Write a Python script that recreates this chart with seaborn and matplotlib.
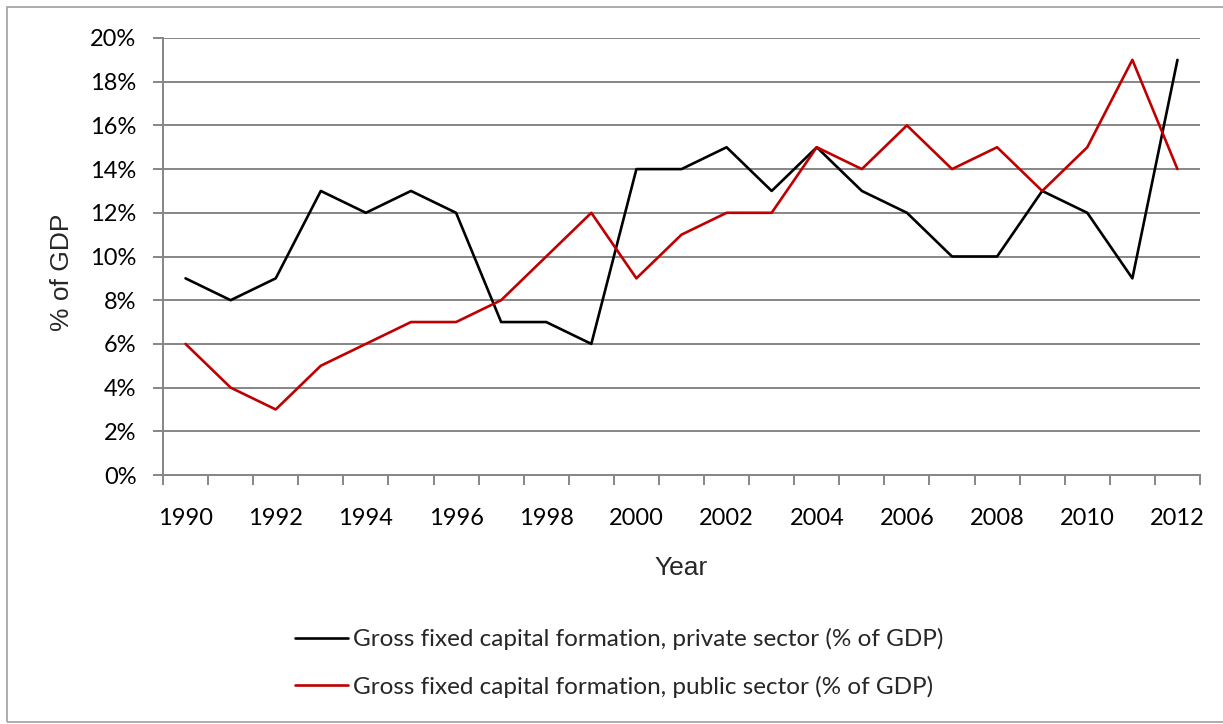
import matplotlib
matplotlib.use("Agg")
import matplotlib.pyplot as plt
import seaborn as sns
import pandas as pd
import numpy as np
from matplotlib.patches import Rectangle
from matplotlib.lines import Line2D
from matplotlib.ticker import FixedLocator, PercentFormatter

years = list(range(1990, 2013))
private = [9, 8, 9, 13, 12, 13, 12, 7, 7, 6, 14, 14, 15, 13, 15, 13, 12, 10, 10, 13, 12, 9, 19]
public = [6, 4, 3, 5, 6, 7, 7, 8, 10, 12, 9, 11, 12, 12, 15, 14, 16, 14, 15, 13, 15, 19, 14]
labels = ["Gross fixed capital formation, private sector (% of GDP)",
          "Gross fixed capital formation, public sector (% of GDP)"]
colors = ["#000000", "#C00000"]

df = pd.DataFrame({
    "Year": years * 2,
    "value": [v / 100 for v in private] + [v / 100 for v in public],
    "series": [labels[0]] * len(years) + [labels[1]] * len(years),
})

sns.set_theme(style="white")
plt.rcParams["font.family"] = ["Lato", "DejaVu Sans"]

fig = plt.figure(figsize=(12.23, 7.24), dpi=100)
ax = fig.add_axes([163 / 1223, 1 - 475 / 724, (1200 - 163) / 1223, (475 - 38) / 724])

sns.lineplot(data=df, x="Year", y="value", hue="series", palette=colors,
             linewidth=1.9, ax=ax, legend=False)

grid_c = "#868686"
ax.set_xlim(1989.5, 2012.5)
ax.set_ylim(0, 0.20)
ax.set_yticks(np.arange(0, 0.2001, 0.02))
ax.yaxis.set_major_formatter(PercentFormatter(1.0, decimals=0))
ax.grid(axis="y", color=grid_c, linewidth=1.4)
ax.set_axisbelow(True)
ax.set_xticks(years[::2])
ax.xaxis.set_minor_locator(FixedLocator(np.arange(1989.5, 2013, 1)))
ax.tick_params(axis="x", which="major", length=0, pad=24, labelsize=17, colors="black")
ax.tick_params(axis="x", which="minor", length=7, width=1.4, color=grid_c, direction="out")
ax.tick_params(axis="y", which="major", length=7, width=1.4, color=grid_c, direction="out",
               pad=12, labelsize=17, labelcolor="black")
ax.xaxis.set_ticks_position("bottom")
ax.yaxis.set_ticks_position("left")
for s in ["top", "right"]:
    ax.spines[s].set_visible(False)
for s in ["left", "bottom"]:
    ax.spines[s].set_color(grid_c)
    ax.spines[s].set_linewidth(1.4)

ax.set_xlabel("")
ax.set_ylabel("")
fig.text(62 / 1223, 1 - 272 / 724, "% of GDP", rotation=90, ha="center", va="center",
         fontsize=19, family=["Liberation Sans", "DejaVu Sans"])
fig.text(681 / 1223, 1 - 568 / 724, "Year", ha="center", va="center",
         fontsize=19, family=["Liberation Sans", "DejaVu Sans"])

handles = [Line2D([], [], color=c, linewidth=1.9) for c in colors]
fig.legend(handles, labels, loc="upper left", bbox_to_anchor=(295 / 1223, 1 - 628 / 724),
           frameon=False, fontsize=17.5, handlelength=2.18, handletextpad=0.2,
           labelspacing=1.05, borderpad=0, borderaxespad=0)

fig.patches.append(Rectangle((7 / 1223, 1 - 722 / 724), 1.2, 715 / 724,
                             transform=fig.transFigure, fill=False,
                             edgecolor="#A6A6A6", linewidth=1.3))

fig.savefig("out.png", dpi=100)
